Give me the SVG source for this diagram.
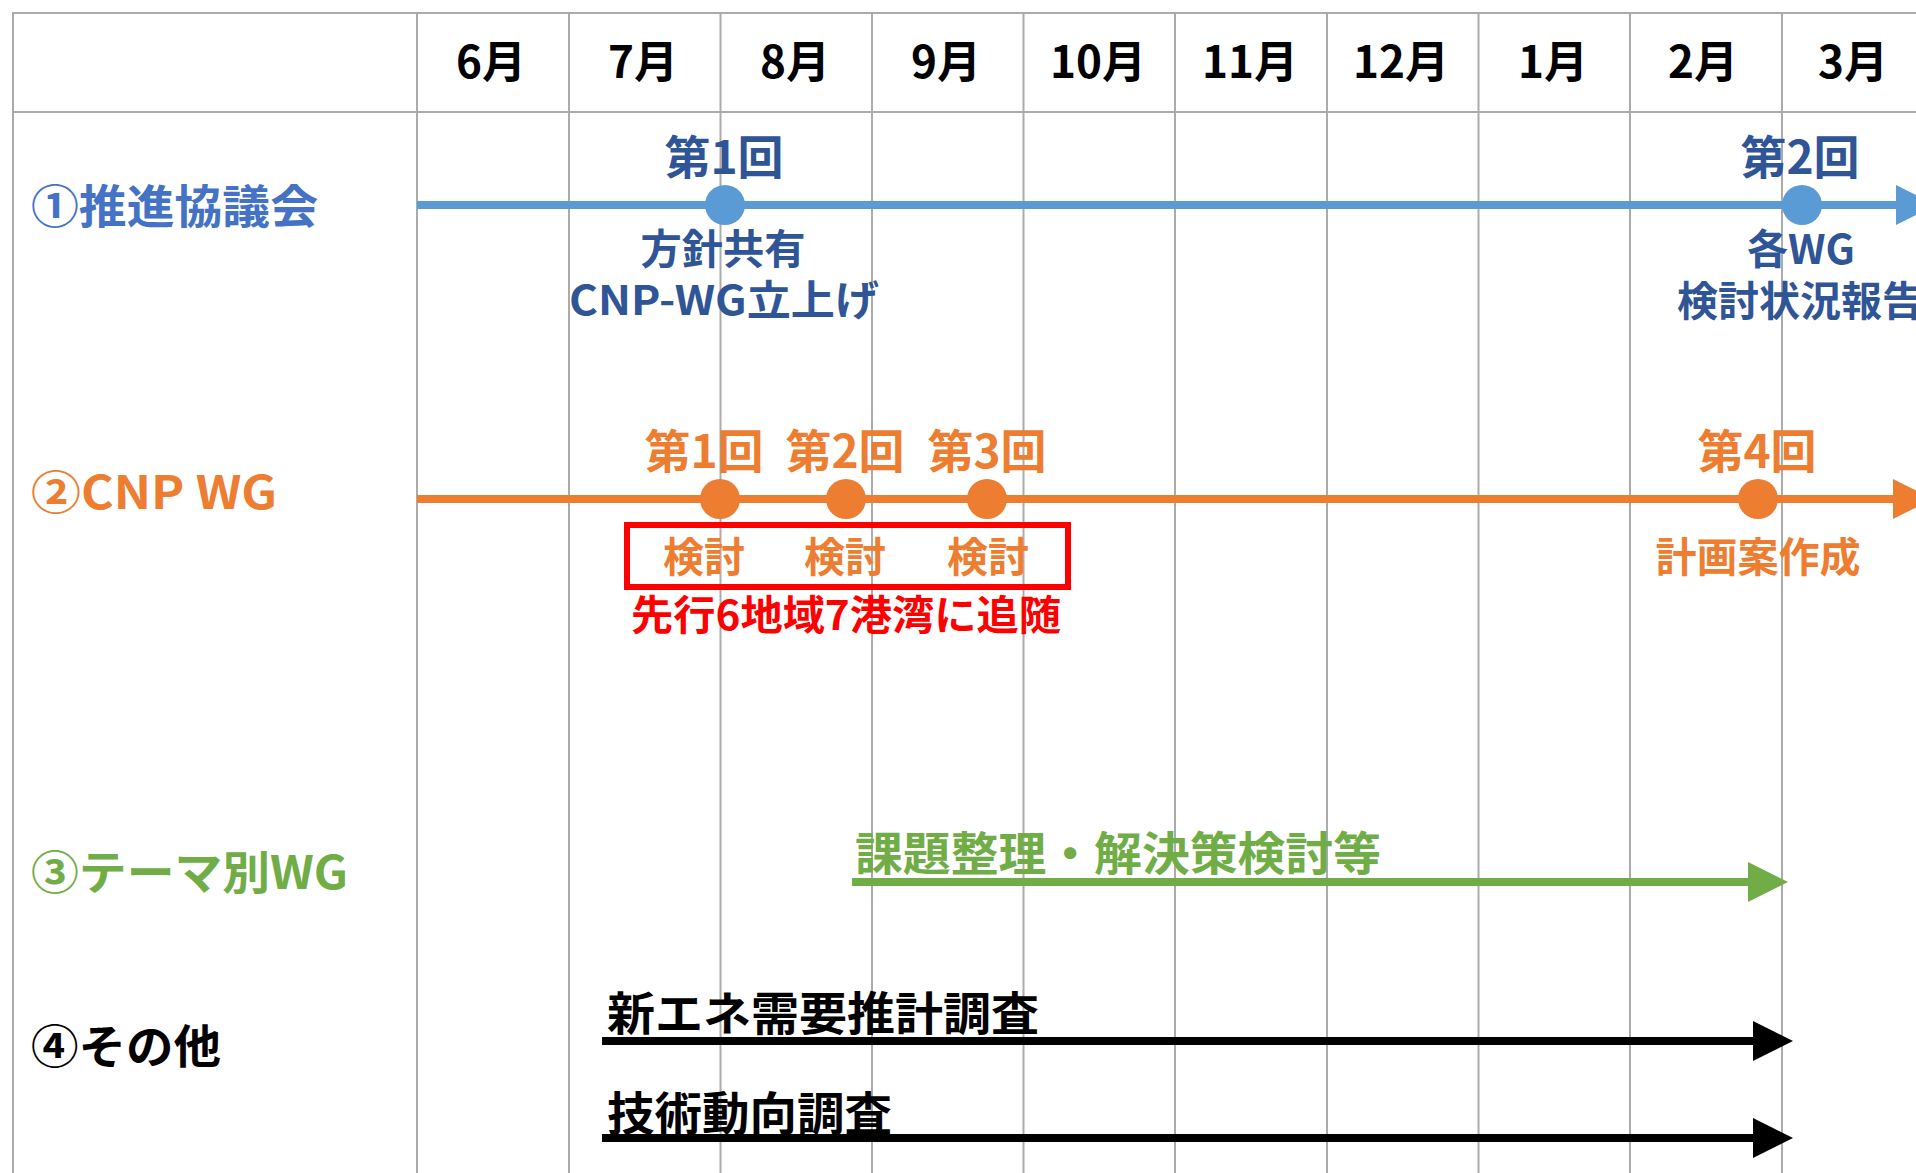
<svg xmlns="http://www.w3.org/2000/svg" width="1916" height="1173" viewBox="0 0 1916 1173">
<style>
text{font-family:"Noto Sans CJK JP","Noto Sans",sans-serif;font-weight:bold;}
.grid{stroke:#ABABAB;stroke-width:2;fill:none;}
.mon{font-size:44px;fill:#000;text-anchor:middle;}
.lab{font-size:46px;}
.big{font-size:46px;text-anchor:middle;}
.sub{font-size:41px;text-anchor:middle;}
.b1{fill:#4472C4;} .b2{fill:#2F5597;} .o{fill:#ED7D31;} .g{fill:#70AD47;} .k{fill:#000;} .r{fill:#FF0000;}
.ln{fill:none;stroke-width:8;}
</style>
<defs>
<marker id="ah-blue" markerUnits="userSpaceOnUse" markerWidth="40" markerHeight="40" refX="0" refY="20" orient="auto"><path d="M0,0 L40,20 L0,40 Z" fill="#5B9BD5"/></marker>
<marker id="ah-orange" markerUnits="userSpaceOnUse" markerWidth="40" markerHeight="40" refX="0" refY="20" orient="auto"><path d="M0,0 L40,20 L0,40 Z" fill="#ED7D31"/></marker>
<marker id="ah-green" markerUnits="userSpaceOnUse" markerWidth="40" markerHeight="40" refX="0" refY="20" orient="auto"><path d="M0,0 L40,20 L0,40 Z" fill="#70AD47"/></marker>
<marker id="ah-black" markerUnits="userSpaceOnUse" markerWidth="40" markerHeight="40" refX="0" refY="20" orient="auto"><path d="M0,0 L40,20 L0,40 Z" fill="#000"/></marker>
</defs>
<rect width="1916" height="1173" fill="#fff"/>
<g id="grid">
<line class="grid" x1="12" y1="13" x2="1916" y2="13"/>
<line class="grid" x1="12" y1="112" x2="1916" y2="112"/>
<line class="grid" x1="13" y1="12" x2="13" y2="1173"/>
<line class="grid" x1="417" y1="12" x2="417" y2="1173"/>
<line class="grid" x1="569" y1="12" x2="569" y2="1173"/>
<line class="grid" x1="720.5" y1="12" x2="720.5" y2="1173"/>
<line class="grid" x1="872" y1="12" x2="872" y2="1173"/>
<line class="grid" x1="1023.5" y1="12" x2="1023.5" y2="1173"/>
<line class="grid" x1="1175" y1="12" x2="1175" y2="1173"/>
<line class="grid" x1="1327" y1="12" x2="1327" y2="1173"/>
<line class="grid" x1="1478.5" y1="12" x2="1478.5" y2="1173"/>
<line class="grid" x1="1630" y1="12" x2="1630" y2="1173"/>
<line class="grid" x1="1782" y1="12" x2="1782" y2="1173"/>
</g>
<g id="months">
<text class="mon" x="491" y="78">6月</text>
<text class="mon" x="643" y="78">7月</text>
<text class="mon" x="795" y="78">8月</text>
<text class="mon" x="946" y="78">9月</text>
<text class="mon" x="1098" y="78">10月</text>
<text class="mon" x="1250" y="78">11月</text>
<text class="mon" x="1401" y="78">12月</text>
<text class="mon" x="1553" y="78">1月</text>
<text class="mon" x="1703" y="78">2月</text>
<text class="mon" x="1853" y="78">3月</text>
</g>
<g id="connectors">
<line class="ln" x1="417" y1="205" x2="1896" y2="205" stroke="#5B9BD5" marker-end="url(#ah-blue)"/>
<line class="ln" x1="417" y1="499" x2="1893" y2="499" stroke="#ED7D31" marker-end="url(#ah-orange)"/>
<line class="ln" x1="852" y1="882" x2="1748" y2="882" stroke="#70AD47" marker-end="url(#ah-green)"/>
<line class="ln" x1="602" y1="1041" x2="1753" y2="1041" stroke="#000" marker-end="url(#ah-black)"/>
<line class="ln" x1="602" y1="1138" x2="1753" y2="1138" stroke="#000" marker-end="url(#ah-black)"/>
</g>
<g id="row1">
<text class="lab b1" x="31" y="223" textLength="287" lengthAdjust="spacingAndGlyphs">①推進協議会</text>
<g id="r1-m1">
<circle cx="725" cy="205" r="20" fill="#5B9BD5"/>
<text class="big b2" x="724" y="174">第1回</text>
<text class="sub b2" x="723" y="264" textLength="165" lengthAdjust="spacingAndGlyphs">方針共有</text>
<text class="sub b2" x="724" y="315" textLength="310" lengthAdjust="spacingAndGlyphs">CNP-WG立上げ</text>
</g>
<g id="r1-m2">
<circle cx="1802" cy="205" r="20" fill="#5B9BD5"/>
<text class="big b2" x="1800" y="174">第2回</text>
<text class="sub b2" x="1801" y="264">各WG</text>
<text class="sub b2" x="1800" y="316">検討状況報告</text>
</g>
</g>
<g id="row2">
<text class="lab o" x="31" y="509" textLength="246" lengthAdjust="spacingAndGlyphs">②CNP WG</text>
<g id="r2-m1"><circle cx="720" cy="499" r="20" fill="#ED7D31"/><text class="big o" x="704" y="468">第1回</text><text class="sub o" x="704" y="572">検討</text></g>
<g id="r2-m2"><circle cx="846" cy="499" r="20" fill="#ED7D31"/><text class="big o" x="845" y="468">第2回</text><text class="sub o" x="845" y="572">検討</text></g>
<g id="r2-m3"><circle cx="987" cy="499" r="20" fill="#ED7D31"/><text class="big o" x="987" y="468">第3回</text><text class="sub o" x="988" y="572">検討</text></g>
<g id="r2-box"><rect x="627" y="525" width="441" height="62" fill="none" stroke="#FF0000" stroke-width="6"/>
<text class="sub r" x="846" y="630" textLength="430" lengthAdjust="spacingAndGlyphs">先行6地域7港湾に追随</text></g>
<g id="r2-m4"><circle cx="1758" cy="499" r="20" fill="#ED7D31"/><text class="big o" x="1757" y="468">第4回</text><text class="sub o" x="1758" y="572">計画案作成</text></g>
</g>
<g id="row3">
<text class="lab g" x="31" y="889" textLength="317" lengthAdjust="spacingAndGlyphs">③テーマ別WG</text>
<text class="lab g" x="855" y="870" textLength="526" lengthAdjust="spacingAndGlyphs">課題整理・解決策検討等</text>
</g>
<g id="row4">
<text class="lab k" x="31" y="1063" textLength="190" lengthAdjust="spacingAndGlyphs">④その他</text>
<text class="lab k" x="607" y="1030" textLength="432" lengthAdjust="spacingAndGlyphs">新エネ需要推計調査</text>
<text class="lab k" x="607" y="1130" textLength="285" lengthAdjust="spacingAndGlyphs">技術動向調査</text>
</g>
</svg>
